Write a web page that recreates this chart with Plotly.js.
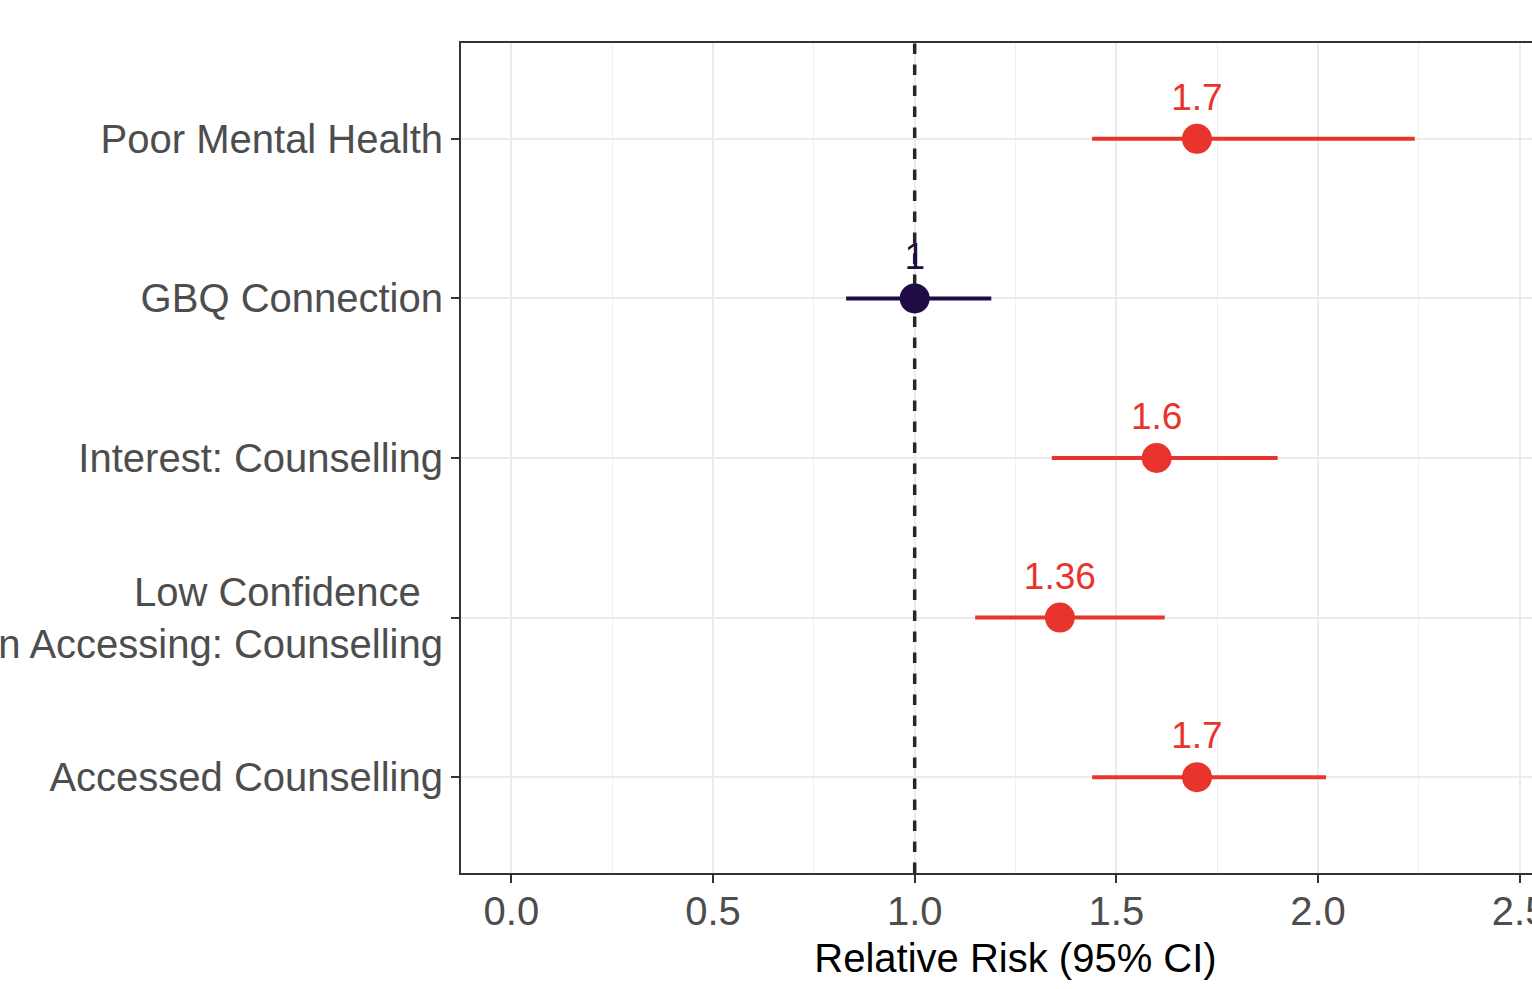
<!DOCTYPE html>
<html>
<head>
<meta charset="utf-8">
<script src="https://cdn.plot.ly/plotly-3.0.1.min.js"></script>
<style>
html, body { margin: 0; padding: 0; overflow: hidden; background: #ffffff; width: 1532px; height: 989px; }
#chart { position: absolute; left: -100px; top: 0; width: 1690px; height: 989px; }
</style>
</head>
<body>
<div id="chart"></div>
<script>
// Data (top to bottom)
const categories = [
  "Poor Mental Health",
  "GBQ Connection",
  "Interest: Counselling",
  "Low Confidence\u00a0\u00a0<br>In Accessing: Counselling",
  "Accessed Counselling"
];
const estimates = [1.7, 1.0, 1.6, 1.36, 1.7];
const lowerCI = [1.44, 0.83, 1.34, 1.15, 1.44];
const upperCI = [2.24, 1.19, 1.90, 1.62, 2.02];
const labels = ["1.7", "1", "1.6", "1.36", "1.7"];
const significant = [true, false, true, true, true];
const xTicks = [0, 0.5, 1.0, 1.5, 2.0, 2.5];
const referenceValue = 1;

const RED = "#E8342C";
const PURPLE = "#1F0B45";
const yRange = [4.6, -0.6];

const refLine = {
  type: "scatter",
  mode: "lines",
  x: [referenceValue, referenceValue],
  y: yRange,
  line: { color: "#262626", width: 3.5, dash: "dash" },
  showlegend: false,
  hoverinfo: "skip"
};

const traces = [refLine].concat(categories.map((c, i) => {
  const col = significant[i] ? RED : PURPLE;
  return {
    type: "scatter",
    mode: "markers+text",
    x: [estimates[i]],
    y: [i],
    text: [labels[i]],
    textposition: "top center",
    textfont: { family: "Liberation Sans, Arial, sans-serif", size: 37, color: col },
    marker: { size: 30, color: col },
    error_x: {
      type: "data",
      symmetric: false,
      array: [upperCI[i] - estimates[i]],
      arrayminus: [estimates[i] - lowerCI[i]],
      thickness: 4,
      width: 0,
      color: col
    },
    showlegend: false,
    hoverinfo: "x+y",
    cliponaxis: false
  };
}));

const layout = {
  width: 1690,
  height: 989,
  margin: { l: 561, r: 20, t: 43, b: 116 },
  paper_bgcolor: "#ffffff",
  plot_bgcolor: "#ffffff",
  font: { family: "Liberation Sans, Arial, sans-serif", color: "#4D4D4D" },
  showlegend: false,
  xaxis: {
    range: [-0.125, 2.625],
    tickvals: xTicks,
    tickformat: ".1f",
    tickfont: { size: 40, color: "#4D4D4D" },
    ticks: "outside",
    ticklen: 8,
    tickwidth: 2,
    tickcolor: "#333333",
    ticklabelstandoff: -6,
    showline: true,
    mirror: true,
    linecolor: "#333333",
    linewidth: 2,
    zeroline: false,
    showgrid: true,
    gridcolor: "#EBEBEB",
    gridwidth: 2,
    minor: { dtick: 0.25, tick0: 0, showgrid: true, gridcolor: "#EFEFEF", gridwidth: 1, ticks: "" },
    title: { text: "Relative Risk (95% CI)", font: { size: 40, color: "#000000" }, standoff: 12 },
    automargin: false
  },
  yaxis: {
    range: yRange,
    tickvals: categories.map((c, i) => i),
    ticktext: categories,
    tickfont: { size: 40, color: "#4D4D4D" },
    ticks: "outside",
    ticklen: 8,
    tickwidth: 2,
    tickcolor: "#333333",
    showline: true,
    mirror: true,
    linecolor: "#333333",
    linewidth: 2,
    zeroline: false,
    showgrid: true,
    gridcolor: "#EBEBEB",
    gridwidth: 2,
    automargin: false
  }
};

Plotly.newPlot("chart", traces, layout, { displayModeBar: false, staticPlot: true });
</script>
</body>
</html>
